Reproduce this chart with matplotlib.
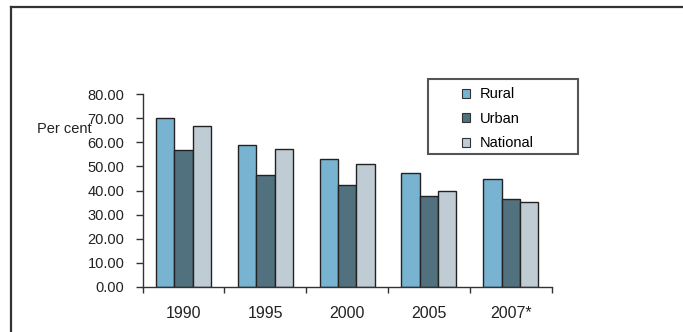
import numpy as np
import matplotlib
matplotlib.use('Agg')
from matplotlib import pyplot as plt
from matplotlib.patches import Patch, Rectangle
from matplotlib.lines import Line2D

plt.rcParams['font.family'] = ['Liberation Sans', 'DejaVu Sans']

years = ['1990', '1995', '2000', '2005', '2007*']
rural = [70.2, 58.9, 53.1, 47.1, 44.6]
urban = [57.0, 46.3, 42.3, 37.7, 36.3]
national = [67.0, 57.1, 51.1, 39.7, 35.3]

series = ['Rural', 'Urban', 'National']
colors = ['#78b4d2', '#52717f', '#c0ccd4']

fig = plt.figure(figsize=(6.83, 3.32), dpi=100)
ax = fig.add_axes([0.2089, 0.1364, 0.5988, 0.5796])

x = np.arange(len(years))
w = 0.224
for k, vals in enumerate([rural, urban, national]):
    ax.bar(x + (k - 1) * w, vals, w, color=colors[k], edgecolor='#222222',
           linewidth=1.0, zorder=2)

ax.set_xlim(-0.5, len(years) - 0.5)
ax.set_ylim(0, 80)
ax.set_yticks(np.arange(0, 81, 10))
ax.set_yticklabels(['%.2f' % v for v in np.arange(0, 81, 10)], fontsize=10.5,
                   color='#222222')
ax.tick_params(axis='y', length=5, width=1, pad=8.0, color='#333333')

# year labels centred under groups, tick marks between groups
ax.set_xticks(x)
ax.set_xticklabels(years, fontsize=11.5, color='#222222')
ax.tick_params(axis='x', which='major', length=0, pad=14)
ax.set_xticks(np.arange(-0.5, len(years), 1.0), minor=True)
ax.tick_params(axis='x', which='minor', length=4, width=1, color='#333333')

for s in ['top', 'right']:
    ax.spines[s].set_visible(False)
for s in ['left', 'bottom']:
    ax.spines[s].set_color('#333333')
    ax.spines[s].set_linewidth(1.0)

fig.text(37 / 683, 1 - 129 / 332, 'Per cent', fontsize=10.5, color='#222222',
         ha='left', va='center')

# legend box
fig.patches.append(Rectangle((428 / 683, 1 - 154 / 332), 150 / 683, 75.3 / 332,
                             transform=fig.transFigure, fill=False,
                             edgecolor='#555555', linewidth=1.5))
handles = [Patch(facecolor=c, edgecolor='#333333', linewidth=0.8) for c in colors]
fig.legend(handles, series, loc='upper left', bbox_to_anchor=(461.7 / 683, 0.737),
           frameon=False, fontsize=10.5, borderpad=0, borderaxespad=0,
           handlelength=0.55, handleheight=0.55, handletextpad=0.7,
           labelspacing=0.72)

# outer frame
fig.lines.append(Line2D([10.5 / 683, 10.5 / 683], [0, 1 - 6.5 / 332],
                        transform=fig.transFigure, color='#333333', linewidth=1.6))
fig.lines.append(Line2D([10.5 / 683, 1], [1 - 6.5 / 332, 1 - 6.5 / 332],
                        transform=fig.transFigure, color='#333333', linewidth=1.6))

fig.savefig('out.png', dpi=100)
